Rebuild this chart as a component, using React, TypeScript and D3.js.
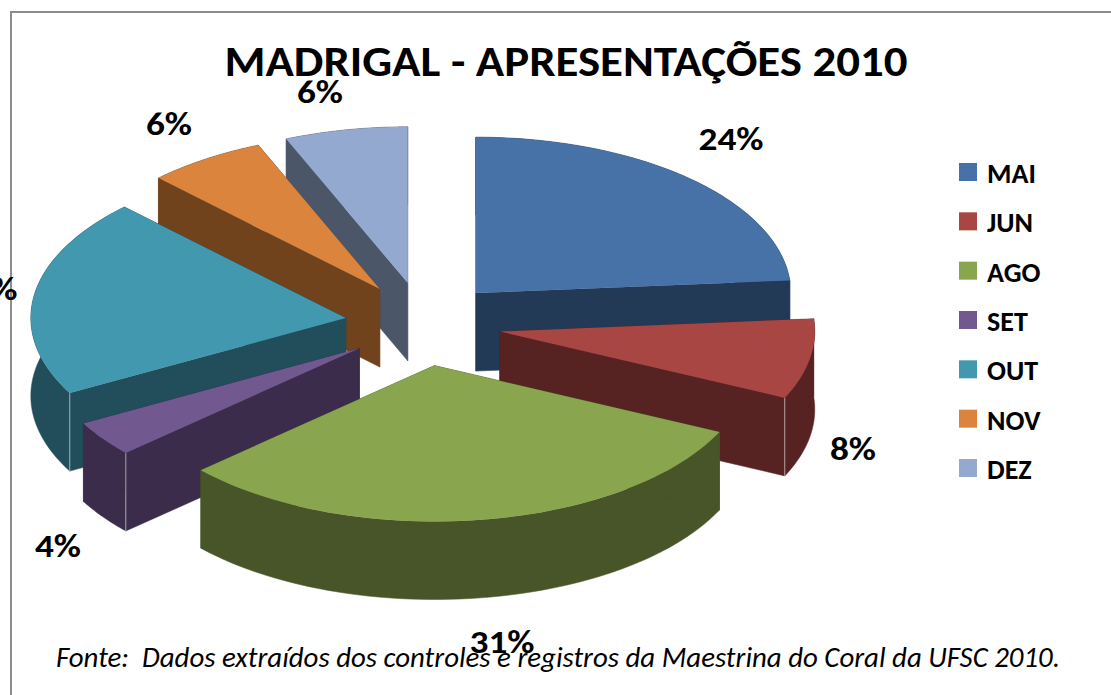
import React from "react";
import * as d3 from "d3";

const months = ["MAI", "JUN", "AGO", "SET", "OUT", "NOV", "DEZ"];
const shares = [23.7, 8.3, 31.3, 3.7, 20.6, 6.1, 6.3];
const topColors = ["#4672A8", "#A84644", "#89A54E", "#71588F", "#4198AF", "#DB843D", "#93A9CF"];
const wallColors = ["#233A57", "#572322", "#485529", "#3A2C4A", "#224E5B", "#70431D", "#4B5769"];
const paintOrder = ["DEZ", "NOV", "MAI", "OUT", "JUN", "SET", "AGO"];
const labelAnchors = [
  [731, 150], [853, 460], [502, 653], [58, 557], [-15, 300], [169, 135], [320, 103],
];
const titleText = "MADRIGAL - APRESENTAÇÕES 2010";
const sourceText = "Fonte:  Dados extraídos dos controles e registros da Maestrina do Coral da UFSC 2010.";

const W = 1111, H = 695;
const cx = 423, cy = 324, rx = 315, ry = 156, depth = 78, explodeX = 78, explodeY = 42;
const FONT = "Carlito, Lato, sans-serif";

const arcs = d3.pie<number>().sort(null).value((d) => d)(shares);
const line = d3.line();

type P = [number, number];

function App() {
  const legendY = d3.scalePoint<string>().domain(months).range([172, 468]);
  const slices = arcs.map((a, i) => {
    const mid = (a.startAngle + a.endAngle) / 2;
    const ax = cx + explodeX * Math.sin(mid);
    const ay = cy - explodeY * Math.cos(mid);
    const pt = (t: number, dz = 0): P => [ax + rx * Math.sin(t), ay - ry * Math.cos(t) + dz];
    const apex = (dz = 0): P => [ax, ay + dz];
    const n = 60;
    const rim = d3.range(n + 1).map((k) => a.startAngle + ((a.endAngle - a.startAngle) * k) / n);
    const top = line([apex(), ...rim.map((t) => pt(t))] as P[]) + "Z";
    const band = line([...rim.map((t) => pt(t)), ...rim.slice().reverse().map((t) => pt(t, depth))] as P[]) + "Z";
    const quad = (t: number) => line([apex(), pt(t), pt(t, depth), apex(depth)] as P[]) + "Z";
    const edge = mid < Math.PI ? a.endAngle : a.startAngle;
    const spans = a.startAngle < Math.PI && a.endAngle > Math.PI;
    const showCorner = !spans && edge > Math.PI / 2 && edge < (3 * Math.PI) / 2;
    return {
      name: months[i], top, band, quadA: quad(a.startAngle), quadB: quad(a.endAngle),
      corner: showCorner ? [pt(edge), pt(edge, depth)] : null,
      fill: topColors[i], wall: wallColors[i],
    };
  });
  const ordered = paintOrder.map((m) => slices.find((s) => s.name === m)!);

  return (
    <svg width={W} height={H} style={{ position: "absolute", left: 0, top: 0, background: "#fff" }}>
      <line x1={11} x2={11} y1={11} y2={H} stroke="#8C8C8C" strokeWidth={2} />
      <line x1={10} x2={W} y1={12} y2={12} stroke="#8C8C8C" strokeWidth={2} />
      {ordered.map((s) => (
        <g key={s.name}>
          <path d={s.band} fill={s.wall} stroke={s.wall} strokeWidth={0.5} />
          <path d={s.quadA} fill={s.wall} stroke={s.wall} strokeWidth={0.5} />
          <path d={s.quadB} fill={s.wall} stroke={s.wall} strokeWidth={0.5} />
          <path d={s.top} fill={s.fill} />
          {s.corner && (
            <line x1={s.corner[0][0]} y1={s.corner[0][1]} x2={s.corner[1][0]} y2={s.corner[1][1]}
              stroke="#fff" strokeOpacity={0.55} strokeWidth={1} />
          )}
        </g>
      ))}
      <text x={566} y={76} textAnchor="middle" fontFamily={FONT} fontWeight={700} fontSize={43}
        textLength={683} lengthAdjust="spacingAndGlyphs" fill="#000">{titleText}</text>
      {shares.map((v, i) => {
        const label = `${Math.round(v)}%`;
        return (
          <text key={i} x={labelAnchors[i][0]} y={labelAnchors[i][1]} textAnchor="middle"
            fontFamily={FONT} fontWeight={700} fontSize={33} textLength={label.length === 3 ? 65 : 46}
            lengthAdjust="spacingAndGlyphs" fill="#000">{label}</text>
        );
      })}
      {months.map((m, i) => (
        <g key={m}>
          <rect x={959} y={legendY(m)! - 9} width={18} height={18} fill={topColors[i]} />
          <text x={987} y={legendY(m)! + 11} fontFamily={FONT} fontWeight={700} fontSize={28} fill="#000">{m}</text>
        </g>
      ))}
      <text x={56} y={667} fontFamily={FONT} fontStyle="italic" fontSize={28} textLength={1004}
        lengthAdjust="spacingAndGlyphs" xmlSpace="preserve" style={{ whiteSpace: "pre" }} fill="#000">{sourceText}</text>
    </svg>
  );
}

export default App;
